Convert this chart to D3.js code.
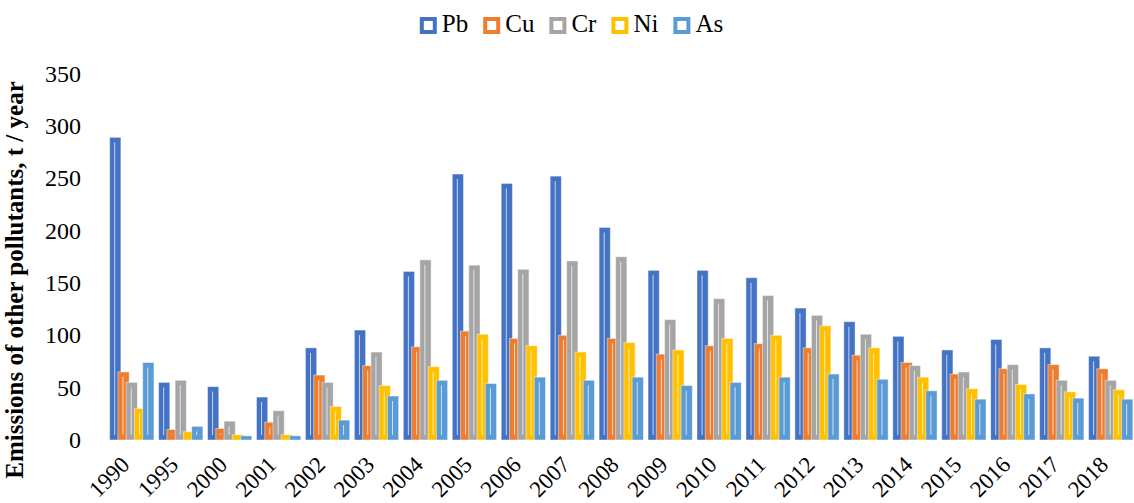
<!DOCTYPE html>
<html>
<head>
<meta charset="utf-8">
<script src="https://cdn.jsdelivr.net/npm/d3@7"></script>
<style>
    body { margin: 0; background: #fff; }
    #wrapper svg { display: block; }
    #wrapper text { font-family: "Liberation Serif", "Times New Roman", serif; }
</style>
</head>
<body>
<div id="wrapper"></div>
<script>
// Emissions of other pollutants, grouped bars per year

const years = ["1990", "1995", "2000", "2001", "2002", "2003", "2004", "2005", "2006", "2007",
    "2008", "2009", "2010", "2011", "2012", "2013", "2014", "2015", "2016", "2017", "2018"];
const seriesNames = ["Pb", "Cu", "Cr", "Ni", "As"];
const pbValues = [289, 55, 51, 41, 88, 105, 161, 254, 245, 252, 203, 162, 162, 155, 126, 113, 99, 86, 96, 88, 80];
const cuValues = [65, 10, 11, 17, 62, 71, 89, 104, 97, 100, 97, 82, 90, 92, 88, 81, 74, 63, 68, 72, 68];
const crValues = [55, 57, 18, 28, 55, 84, 172, 167, 163, 171, 175, 115, 135, 138, 119, 101, 71, 65, 72, 57, 57];
const niValues = [30, 8, 5, 5, 32, 52, 70, 101, 90, 84, 93, 86, 97, 100, 109, 88, 60, 49, 53, 46, 48];
const asValues = [74, 13, 4, 4, 19, 42, 57, 54, 60, 57, 60, 52, 55, 60, 63, 58, 47, 39, 44, 40, 39];
const yTicks = [0, 50, 100, 150, 200, 250, 300, 350];
const colors = ["#4472C4", "#ED7D31", "#A5A5A5", "#FFC000", "#5B9BD5"];

function drawChart() {
    const allValues = [pbValues, cuValues, crValues, niValues, asValues];
    const dataset = years.map((year, i) => ({
        year: year,
        values: seriesNames.map((name, s) => ({ name: name, value: allValues[s][i], color: colors[s] }))
    }));

    // 1. dimensions
    const dimensions = {
        width: 1134,
        height: 503,
        plotLeft: 105,
        plotRight: 1137.5,
        plotTop: 73.5,
        plotBottom: 440,
    };

    const wrapper = d3.select("#wrapper")
        .append("svg")
        .attr("width", dimensions.width)
        .attr("height", dimensions.height);

    // 2. scales
    const x0 = d3.scaleBand()
        .domain(years)
        .range([dimensions.plotLeft, dimensions.plotRight])
        .padding(0.095);

    // bars overlap slightly, like the source chart
    const x1 = d3.scaleBand()
        .domain(seriesNames)
        .range([0, x0.bandwidth()])
        .paddingInner(-0.36)
        .paddingOuter(0);

    const yScale = d3.scaleLinear()
        .domain([0, 350])
        .range([dimensions.plotBottom, dimensions.plotTop]);

    // 3. bars
    const groups = wrapper.append("g")
        .selectAll("g")
        .data(dataset)
        .enter().append("g")
        .attr("transform", d => `translate(${x0(d.year)}, 0)`);

    const bars = groups.selectAll("g")
        .data(d => d.values)
        .enter().append("g");

    bars.append("rect")
        .attr("x", d => x1(d.name))
        .attr("y", d => yScale(d.value))
        .attr("width", x1.bandwidth())
        .attr("height", d => yScale(0) - yScale(d.value))
        .attr("fill", d => d.color)
        .attr("stroke", "rgba(255,255,255,0.45)")
        .attr("stroke-width", 1);

    // thin highlight line inside each bar
    bars.filter(d => yScale(0) - yScale(d.value) > 10)
        .append("line")
        .attr("x1", d => x1(d.name) + x1.bandwidth() * 0.45)
        .attr("x2", d => x1(d.name) + x1.bandwidth() * 0.45)
        .attr("y1", d => yScale(d.value) + 5)
        .attr("y2", yScale(0) - 5)
        .attr("stroke", "rgba(255,255,255,0.7)")
        .attr("stroke-width", 1);

    // 4. y axis labels
    const yAxisGenerator = d3.axisLeft(yScale)
        .tickValues(yTicks)
        .tickSize(0)
        .tickPadding(0);

    const yAxis = wrapper.append("g")
        .attr("transform", "translate(81, 0)")
        .call(yAxisGenerator)
        .attr("font-family", null)
        .attr("font-size", null);
    yAxis.select(".domain").remove();
    yAxis.selectAll("text")
        .attr("fill", "#000")
        .style("font-size", "24px");

    // x axis labels, rotated
    wrapper.append("g")
        .selectAll("text")
        .data(years)
        .enter().append("text")
        .attr("transform", d => `translate(${x0(d) + x0.bandwidth() / 2 - 1}, 466) rotate(-45)`)
        .attr("text-anchor", "end")
        .attr("fill", "#000")
        .style("font-size", "23px")
        .text(d => d);

    // y axis title
    wrapper.append("text")
        .attr("transform", "translate(22.5, 280) rotate(-90)")
        .attr("text-anchor", "middle")
        .attr("fill", "#000")
        .style("font-size", "25px")
        .style("font-weight", "bold")
        .text("Emissions of other pollutants, t / year");

    // 5. legend
    const legend = wrapper.append("g");
    const legendItems = legend.selectAll("g")
        .data(seriesNames)
        .enter().append("g");

    legendItems.append("rect")
        .attr("x", 2)
        .attr("y", 19)
        .attr("width", 13)
        .attr("height", 13)
        .attr("fill", "#fff")
        .attr("stroke", (d, i) => colors[i])
        .attr("stroke-width", 4);

    legendItems.append("text")
        .attr("x", 22)
        .attr("y", 32)
        .attr("fill", "#000")
        .style("font-size", "25px")
        .text(d => d);

    let offset = 0;
    legendItems.each(function() {
        const w = 22 + this.querySelector("text").getComputedTextLength();
        this.__offset = offset;
        offset += w + 15;
    });
    const legendWidth = offset - 15;
    const legendStart = 571.5 - legendWidth / 2;
    legendItems.attr("transform", function() {
        return `translate(${legendStart + this.__offset}, 0)`;
    });
}

drawChart();
</script>
</body>
</html>
